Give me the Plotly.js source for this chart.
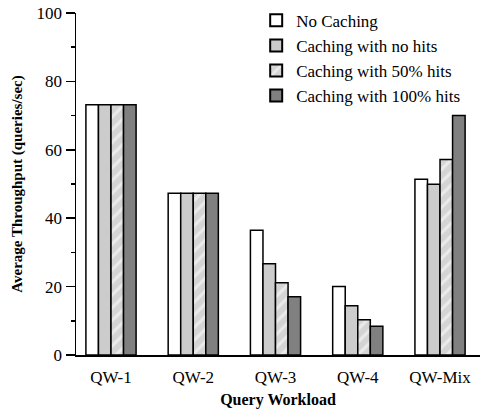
<!DOCTYPE html>
<html>
<head>
<meta charset="utf-8">
<script src="https://cdn.plot.ly/plotly-3.0.1.min.js"></script>
<style>html,body{margin:0;padding:0;background:#fff;}#chart{width:484px;height:412px;}</style>
</head>
<body>
<div id="chart"></div>
<script>
const categories = ["QW-1", "QW-2", "QW-3", "QW-4", "QW-Mix"];
const seriesNames = ["No Caching", "Caching with no hits", "Caching with 50% hits", "Caching with 100% hits"];
const noCaching = [73.2, 47.3, 36.5, 20.0, 51.4];
const cachingNoHits = [73.2, 47.3, 26.7, 14.4, 49.9];
const caching50 = [73.2, 47.3, 21.1, 10.3, 57.2];
const caching100 = [73.2, 47.3, 17.0, 8.4, 70.0];
const yTickVals = [0, 20, 40, 60, 80, 100];

const FONT = "Liberation Serif";
const line = {color: "#000", width: 1.5};
const xpos = categories.map((c, i) => i);

const traces = [
  {type: "bar", name: seriesNames[0], x: xpos, y: noCaching,
   marker: {color: "#ffffff", line: line}},
  {type: "bar", name: seriesNames[1], x: xpos, y: cachingNoHits,
   marker: {color: "#cccccc", line: line}},
  {type: "bar", name: seriesNames[2], x: xpos, y: caching50,
   marker: {color: "#d4d4d4", line: line,
            pattern: {shape: "/", fgcolor: "#ffffff", fillmode: "overlay", size: 9, solidity: 0.35}}},
  {type: "bar", name: seriesNames[3], x: xpos, y: caching100,
   marker: {color: "#808080", line: line}}
];

const layout = {
  width: 484, height: 412,
  margin: {l: 76, r: 4, t: 13, b: 57, autoexpand: false},
  paper_bgcolor: "#fff", plot_bgcolor: "#fff",
  font: {family: FONT, size: 17, color: "#000"},
  barmode: "group", bargap: 0.39, bargroupgap: 0,
  showlegend: true,
  legend: {x: 0.446, y: 1.03, xanchor: "left", yanchor: "top",
           font: {family: FONT, size: 17, color: "#000"},
           bgcolor: "rgba(0,0,0,0)", tracegroupgap: 0, itemsizing: "constant"},
  xaxis: {
    range: [-0.4255, 4.486],
    tickvals: xpos, ticktext: categories,
    ticks: "", showgrid: false, zeroline: false,
    showline: true, linecolor: "#000", linewidth: 1.5,
    ticklabelstandoff: 6,
    tickfont: {family: FONT, size: 17},
    title: {text: "<b>Query Workload</b>", font: {family: FONT, size: 16}, standoff: 8}
  },
  yaxis: {
    range: [0, 100],
    tickvals: yTickVals, ticks: "outside", ticklen: 9, tickwidth: 1.5, tickcolor: "#000",
    minor: {dtick: 10, ticks: "outside", ticklen: 4, tickwidth: 1.5, tickcolor: "#000"},
    showgrid: false, zeroline: false,
    showline: true, linecolor: "#000", linewidth: 1.5,
    tickfont: {family: FONT, size: 17},
    title: {text: "<b>Average Throughput (queries/sec)</b>", font: {family: FONT, size: 15}, standoff: 10}
  }
};

Plotly.newPlot("chart", traces, layout, {displayModeBar: false, staticPlot: true});
</script>
</body>
</html>
